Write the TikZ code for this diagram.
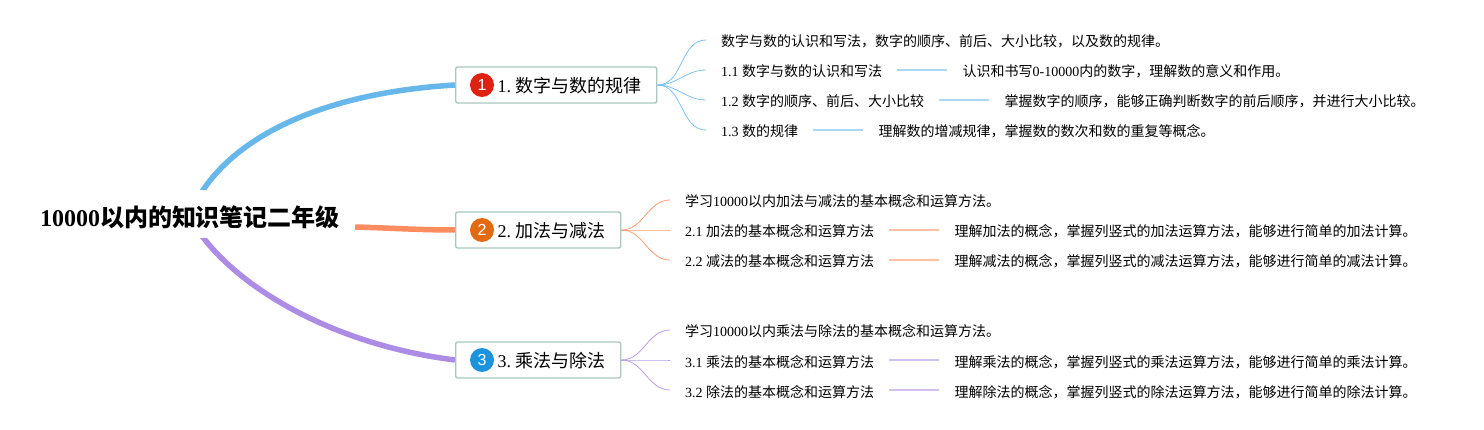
\documentclass[tikz,border=0pt]{standalone}
\usepackage{fontspec}
\setmainfont{Liberation Serif}
\newfontfamily\cjk{Noto Sans CJK SC}
\newfontfamily\ballfont{Liberation Sans}
\newcommand{\zh}[1]{{\cjk #1}}
\frenchspacing
\usepackage{xcolor}
\usepackage{tikz}
\usetikzlibrary{positioning,backgrounds}
\definecolor{mainblue}{HTML}{67B7EB}
\definecolor{mainorange}{HTML}{FF8C5E}
\definecolor{mainviolet}{HTML}{AC8CE4}
\definecolor{boxedge}{HTML}{A8C8BE}
\definecolor{ballred}{HTML}{DD2211}
\definecolor{ballorange}{HTML}{E26A12}
\definecolor{ballblue}{HTML}{1B94DD}

\begin{document}
\begin{tikzpicture}[
    x=1pt, y=-1pt,
    rootnode/.style={fill=white, inner xsep=15pt, inner ysep=0pt, text height=37pt, text depth=11pt, font=\fontsize{24}{24}\selectfont\bfseries},
    topic/.style={rectangle, draw=boxedge, fill=white, line width=1.4pt, rounded corners=2pt, minimum height=36pt, inner xsep=14pt, inner ysep=0pt, anchor=west, text height=16pt, text depth=1pt, font=\fontsize{18}{18}\selectfont},
    ball/.style={circle, minimum size=24pt, inner sep=0pt, text=white, font=\fontsize{16}{16}\selectfont\ballfont},
    leaf/.style={inner xsep=15pt, inner ysep=0pt, text height=14pt, text depth=0pt, anchor=west, font=\fontsize{14}{14}\selectfont},
    mainlink/.style={line width=5.5pt},
    twig/.style={line width=0.8pt, out=0, in=180},
    rule/.style={line width=1.3pt}
]
\useasboundingbox (0,0) rectangle (1484,430);

% Root
\node[rootnode, anchor=base] (root) at (190,227) {10000\zh{\bfseries 以内的知识笔记二年级}};

% Topics
\node[topic, minimum width=201pt] (topicA) at (455,85) {\hspace*{27pt}1. \zh{数字与数的规律}};
\node[topic, minimum width=165pt] (topicB) at (455,230) {\hspace*{27pt}2. \zh{加法与减法}};
\node[topic, minimum width=165pt] (topicC) at (455,360) {\hspace*{27pt}3. \zh{乘法与除法}};

% Icons
\node[ball, fill=ballred] (ballA) at ([xshift=27pt]topicA.west) {1};
\node[ball, fill=ballorange] (ballB) at ([xshift=27pt]topicB.west) {2};
\node[ball, fill=ballblue] (ballC) at ([xshift=27pt]topicC.west) {3};

% Topic 1
\node[leaf] (a0) at (706,40) {\zh{数字与数的认识和写法，数字的顺序、前后、大小比较，以及数的规律。}};
\node[leaf] (a1) at (706,70) {1.1 \zh{数字与数的认识和写法}};
\node[leaf, right=50pt of a1] (a1x) {\zh{认识和书写}0-10000\zh{内的数字，理解数的意义和作用。}};
\node[leaf] (a2) at (706,100) {1.2 \zh{数字的顺序、前后、大小比较}};
\node[leaf, right=50pt of a2] (a2x) {\zh{掌握数字的顺序，能够正确判断数字的前后顺序，并进行大小比较。}};
\node[leaf] (a3) at (706,130) {1.3 \zh{数的规律}};
\node[leaf, right=50pt of a3] (a3x) {\zh{理解数的增减规律，掌握数的数次和数的重复等概念。}};

% Topic 2
\node[leaf] (b0) at (670,200) {\zh{学习}10000\zh{以内加法与减法的基本概念和运算方法。}};
\node[leaf] (b1) at (670,230) {2.1 \zh{加法的基本概念和运算方法}};
\node[leaf, right=50pt of b1] (b1x) {\zh{理解加法的概念，掌握列竖式的加法运算方法，能够进行简单的加法计算。}};
\node[leaf] (b2) at (670,260) {2.2 \zh{减法的基本概念和运算方法}};
\node[leaf, right=50pt of b2] (b2x) {\zh{理解减法的概念，掌握列竖式的减法运算方法，能够进行简单的减法计算。}};

% Topic 3
\node[leaf] (c0) at (670,330) {\zh{学习}10000\zh{以内乘法与除法的基本概念和运算方法。}};
\node[leaf] (c1) at (670,360) {3.1 \zh{乘法的基本概念和运算方法}};
\node[leaf, right=50pt of c1] (c1x) {\zh{理解乘法的概念，掌握列竖式的乘法运算方法，能够进行简单的乘法计算。}};
\node[leaf] (c2) at (670,390) {3.2 \zh{除法的基本概念和运算方法}};
\node[leaf, right=50pt of c2] (c2x) {\zh{理解除法的概念，掌握列竖式的除法运算方法，能够进行简单的除法计算。}};

% Connectors
\begin{scope}[on background layer]
\draw[mainlink, mainblue] ([shift={(10,5)}]root.north) .. controls +(35,-57) and (320,93) .. (topicA.west);
\draw[mainlink, mainorange] (root.base east) .. controls +(35,1) and +(-35,0) .. (topicB.west);
\draw[mainlink, mainviolet] ([shift={(10,-5)}]root.south) .. controls +(40,56) and (335,345) .. (topicC.west);

\draw[twig, color=mainblue!85] (topicA.east) to (a0.west);
\draw[twig, color=mainblue!85] (topicA.east) to (a1.west);
\draw[twig, color=mainblue!85] (topicA.east) to (a2.west);
\draw[twig, color=mainblue!85] (topicA.east) to (a3.west);
\draw[rule, color=mainblue!55] (a1) -- (a1x);
\draw[rule, color=mainblue!55] (a2) -- (a2x);
\draw[rule, color=mainblue!55] (a3) -- (a3x);

\draw[twig, color=mainorange!85] (topicB.east) to (b0.west);
\draw[twig, color=mainorange!85] (topicB.east) to (b1.west);
\draw[twig, color=mainorange!85] (topicB.east) to (b2.west);
\draw[rule, color=mainorange!55] (b1) -- (b1x);
\draw[rule, color=mainorange!55] (b2) -- (b2x);

\draw[twig, color=mainviolet!85] (topicC.east) to (c0.west);
\draw[twig, color=mainviolet!85] (topicC.east) to (c1.west);
\draw[twig, color=mainviolet!85] (topicC.east) to (c2.west);
\draw[rule, color=mainviolet!55] (c1) -- (c1x);
\draw[rule, color=mainviolet!55] (c2) -- (c2x);
\end{scope}

\end{tikzpicture}
\end{document}
